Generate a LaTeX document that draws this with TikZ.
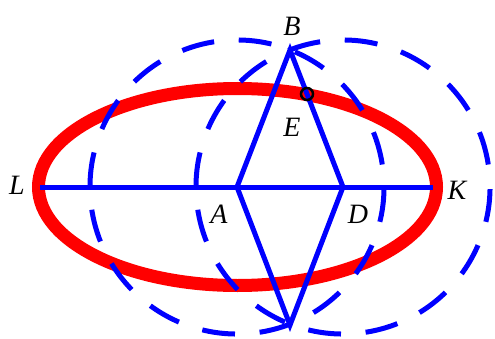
\documentclass[tikz,border=0pt]{standalone}
\usepackage{fontspec}
\setmainfont{Liberation Serif}
\begin{document}
\begin{tikzpicture}[x=1pt,y=1pt,
  blueline/.style={draw={rgb,255:red,0;green,0;blue,255},line width=5pt},
  dashcircle/.style={draw={rgb,255:red,0;green,0;blue,255},line width=5pt,dash pattern=on 33pt off 24.7pt},
  redellipse/.style={draw={rgb,255:red,255;green,0;blue,0},line width=13pt},
  lbl/.style={font=\fontsize{28}{32}\selectfont\itshape,inner sep=0pt}]
\useasboundingbox (0,0) rectangle (495,338);
\coordinate (O) at (237.5,151);
\coordinate (A) at (237,151);
\coordinate (D) at (343,151);
\coordinate (B) at (290,288);
\coordinate (C) at (290,13);
\coordinate (L) at (40,151);
\coordinate (K) at (433,151);
\coordinate (E) at (307,244);
% red ellipse
\draw[redellipse] (O) ellipse[x radius=199, y radius=98.5];
% dashed circles
\draw[dashcircle] (A) ++(9:147) arc[start angle=9,end angle=369,radius=147];
\draw[dashcircle] (D) ++(9:147) arc[start angle=9,end angle=369,radius=147];
% lines
\draw[blueline] (L) -- (K);
\draw[blueline,line join=miter] (A) -- (B) -- (D) -- (C) -- cycle;
% point E
\draw[black,line width=2.5pt] (E) circle[radius=6];
% labels
\node[lbl] (Lt) at (17,153) {L};
\node[lbl] (Kt) at (457,148) {K};
\node[lbl] (At) at (219,123.5) {A};
\node[lbl] (Dt) at (358,123.5) {D};
\node[lbl] (Bt) at (292,311.5) {B};
\node[lbl] (Et) at (292,210.5) {E};
\end{tikzpicture}
\end{document}
